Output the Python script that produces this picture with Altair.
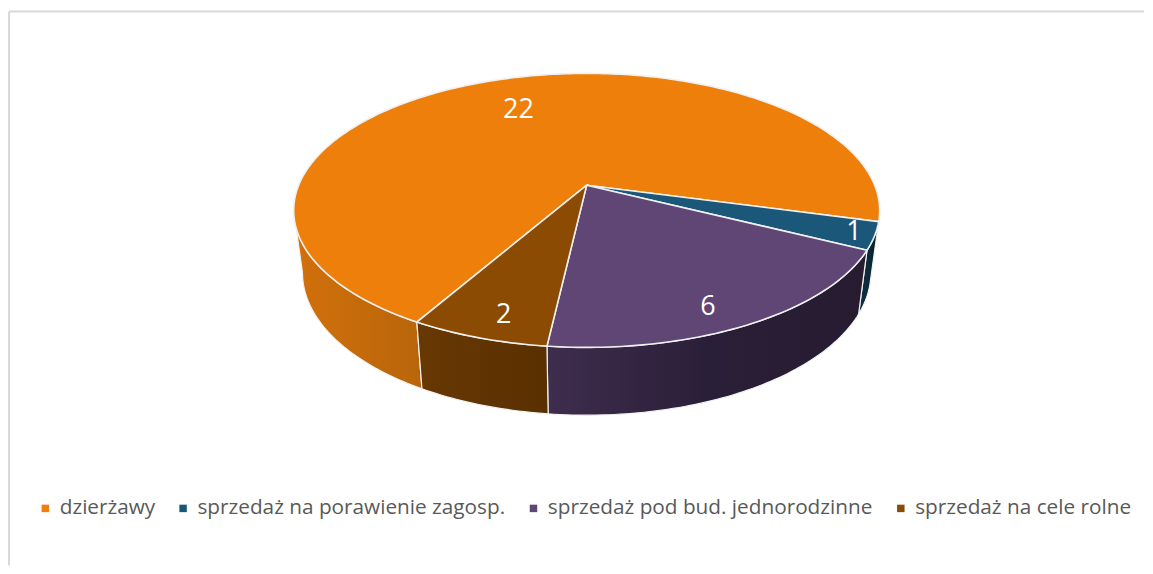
import math
import altair as alt
import pandas as pd

# --- values ---
categories = ["dzierżawy", "sprzedaż na porawienie zagosp.", "sprzedaż pod bud. jednorodzinne", "sprzedaż na cele rolne"]
values = [22, 1, 6, 2]
colors = ["#EE7F0A", "#1B5779", "#5F4675", "#8B4B03"]
wall_stops = [
    ["#D2700B", "#B8650A"],
    ["#0F3245", "#07202C"],
    ["#3F2D4E", "#2A1F38", "#261B2F"],
    ["#683803", "#593000"],
]

# --- projection of the tilted pie (page-like units) ---
CX, CY = 578.7, 177.0   # apex in plot coordinates
R, B, P = 288.5, 132.6, 0.184
SHRINK_X, DEPTH, SHRINK_Y = 0.97, 61.4, 1.04
START = 119.7           # angle where the first slice begins (clockwise, from 3 o'clock)
W, H = 1137, 558


def proj(t, r=1.0):
    a = math.radians(t)
    u, v = r * math.cos(a), r * math.sin(a)
    w = 1 - P * v
    return CX + R * u / w, CY + B * v / w


def proj_bottom(t):
    x, y = proj(t)
    return CX + SHRINK_X * (x - CX), CY + DEPTH + SHRINK_Y * (y - CY)


total = sum(values)
spans, a0 = [], START
for val in values:
    spans.append((a0, a0 + 360 * val / total))
    a0 += 360 * val / total

top_rows = []
for k, (a, b) in enumerate(spans):
    n = max(6, int(b - a))
    pts = [(CX, CY)] + [proj(a + (b - a) * j / n) for j in range(n + 1)] + [(CX, CY)]
    for i, (x, y) in enumerate(pts):
        top_rows.append({"x": x, "y": y, "i": i, "kategoria": categories[k]})
top_df = pd.DataFrame(top_rows)

x_s = alt.Scale(domain=[0, W], range=[0, W], nice=False, zero=False)
y_s = alt.Scale(domain=[0, H], range=[0, H], nice=False, zero=False)
X = alt.X("x:Q", scale=x_s, axis=None)
Y = alt.Y("y:Q", scale=y_s, axis=None)

walls = []
visible = [(spans[0][0], 169.4), spans[1], spans[2], spans[3]]
for k, (a, b) in enumerate(visible):
    n = max(6, int(b - a))
    ts = [a + (b - a) * j / n for j in range(n + 1)]
    pts = [proj(t) for t in ts] + [proj_bottom(t) for t in reversed(ts)]
    pts.append(pts[0])
    df = pd.DataFrame([{"x": x, "y": y, "i": i} for i, (x, y) in enumerate(pts)])
    stops = wall_stops[k]
    grad = alt.LinearGradient(
        gradient="linear", x1=0, x2=1, y1=0, y2=0,
        stops=[alt.GradientStop(offset=j / (len(stops) - 1), color=c) for j, c in enumerate(stops)],
    )
    walls.append(
        alt.Chart(df).mark_line(fill=grad, stroke="#F2F2F2", strokeWidth=1.2).encode(x=X, y=Y, order="i:Q")
    )

tops = alt.Chart(top_df).mark_line(stroke="#F0F0F0", strokeWidth=1.6).encode(
    x=X, y=Y, order="i:Q", detail="kategoria:N",
    fill=alt.Fill(
        "kategoria:N",
        scale=alt.Scale(domain=categories, range=colors),
        legend=alt.Legend(
            title=None, orient="none", legendX=26, legendY=490, direction="horizontal", columns=4,
            symbolType="square", symbolSize=56, symbolStrokeWidth=0, labelFont="Open Sans",
            labelFontSize=20.8, labelColor="#595959", columnPadding=17, labelOffset=4, labelLimit=500,
        ),
    ),
)

# label placement (angle, radius fraction on the pie)
label_pos = [(247.25, 0.684), (20.9, 0.933), (65.4, 0.865), (106.4, 0.865)]
lab_df = pd.DataFrame(
    [{"x": proj(t, r)[0], "y": proj(t, r)[1], "txt": str(v)} for (t, r), v in zip(label_pos, values)]
)
labels = alt.Chart(lab_df).mark_text(font="Open Sans", fontSize=27, color="white").encode(x=X, y=Y, text="txt:N")

frame_top = alt.Chart(pd.DataFrame({"a": [0]})).mark_rule(color="#D9D9D9", strokeWidth=2).encode(
    x=alt.value(0), x2=alt.value(W), y=alt.value(3))
frame_left = alt.Chart(pd.DataFrame({"a": [0]})).mark_rule(color="#D9D9D9", strokeWidth=2).encode(
    x=alt.value(0), y=alt.value(3), y2=alt.value(H))

chart = alt.layer(frame_top, frame_left, *walls, tops, labels).properties(
    width=W, height=H, padding=0, background="white"
).configure_view(stroke=None).resolve_scale(fill="independent")

chart.save("out.html", embed_options={"renderer": "svg", "actions": False})
